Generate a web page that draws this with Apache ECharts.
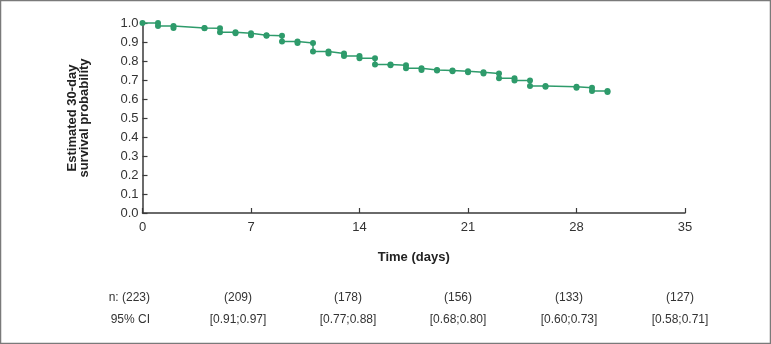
<!DOCTYPE html>
<html>
<head>
<meta charset="utf-8">
<script src="https://cdn.jsdelivr.net/npm/echarts@6/dist/echarts.min.js"></script>
<style>
html, body { margin: 0; padding: 0; background: #fff; }
#ct1 { width: 771px; height: 344px; }
</style>
</head>
<body>
<div id="ct1"></div>
<script>
// event days and survival after each day
var days = [0, 1, 2, 4, 5, 6, 7, 8, 9, 10, 11, 12, 13, 14, 15, 16, 17, 18, 19, 20, 21, 22, 23, 24, 25, 26, 28, 29, 30];
var survival = [1.0, 0.984, 0.974, 0.972, 0.951, 0.946, 0.936, 0.933, 0.903, 0.895, 0.850, 0.840, 0.826, 0.815, 0.781, 0.777, 0.762, 0.753, 0.750, 0.746, 0.741, 0.734, 0.709, 0.697, 0.668, 0.664, 0.659, 0.642, 0.637];
var xTicks = [0, 7, 14, 21, 28, 35];
var nAtRisk = ['n: (223)', '(209)', '(178)', '(156)', '(133)', '(127)'];
var ciLabels = ['95% CI', '[0.91;0.97]', '[0.77;0.88]', '[0.68;0.80]', '[0.60;0.73]', '[0.58;0.71]'];

var font = '"Liberation Sans", Arial, sans-serif';
var green = '#2e9b6b';
var axisColor = '#3a3a3a';

// step curve: vertical drop at each event day
var curve = [[days[0], survival[0]]];
for (var i = 1; i < days.length; i++) {
    curve.push([days[i], survival[i - 1]]);
    curve.push([days[i], survival[i]]);
}

var tableX = [150, 238, 348, 458, 569, 680];
var graphics = [{
    type: 'rect',
    shape: {x: 0.5, y: 0.5, width: 770, height: 343},
    style: {fill: 'none', stroke: '#7a7a7a', lineWidth: 1.5},
    silent: true
}];
for (var k = 0; k < nAtRisk.length; k++) {
    var align = k === 0 ? 'right' : 'center';
    graphics.push({
        type: 'text', x: tableX[k], y: 298,
        style: {text: nAtRisk[k], font: '12px ' + font, fill: '#333', textAlign: align, textVerticalAlign: 'middle'}
    });
    graphics.push({
        type: 'text', x: tableX[k], y: 320,
        style: {text: ciLabels[k], font: '12px ' + font, fill: '#333', textAlign: align, textVerticalAlign: 'middle'}
    });
}

var option1 = {
    animation: false,
    backgroundColor: '#fff',
    grid: {left: 142.5, right: 86, top: 23, bottom: 131},
    xAxis: {
        type: 'value', min: 0, max: 35, interval: 7,
        name: 'Time (days)', nameLocation: 'middle', nameGap: 38,
        nameTextStyle: {fontFamily: font, fontSize: 13, fontWeight: 'bold', color: '#222'},
        axisLine: {lineStyle: {color: axisColor, width: 1.5}},
        axisTick: {inside: true, length: 5, lineStyle: {color: axisColor, width: 1.2}},
        axisLabel: {fontFamily: font, fontSize: 13, color: '#333', margin: 8},
        splitLine: {show: false}
    },
    yAxis: {
        type: 'value', min: 0, max: 1, interval: 0.1,
        name: 'Estimated 30-day\nsurvival probability', nameLocation: 'middle', nameGap: 52, nameRotate: 90,
        nameTextStyle: {fontFamily: font, fontSize: 13, fontWeight: 'bold', color: '#222', lineHeight: 12},
        axisLine: {show: true, lineStyle: {color: axisColor, width: 1.5}},
        axisTick: {show: true, inside: true, length: 5, lineStyle: {color: axisColor, width: 1.2}},
        axisLabel: {fontFamily: font, fontSize: 13, color: '#333', margin: 4,
            formatter: function (v) { return v.toFixed(1); }},
        splitLine: {show: false}
    },
    series: [{
        type: 'line',
        data: curve,
        symbol: 'circle',
        symbolSize: 6,
        itemStyle: {color: green},
        lineStyle: {color: green, width: 1.5},
        clip: false
    }],
    graphic: graphics
};

var myChart1 = echarts.init(document.getElementById('ct1'));
myChart1.setOption(option1, true);
</script>
</body>
</html>
